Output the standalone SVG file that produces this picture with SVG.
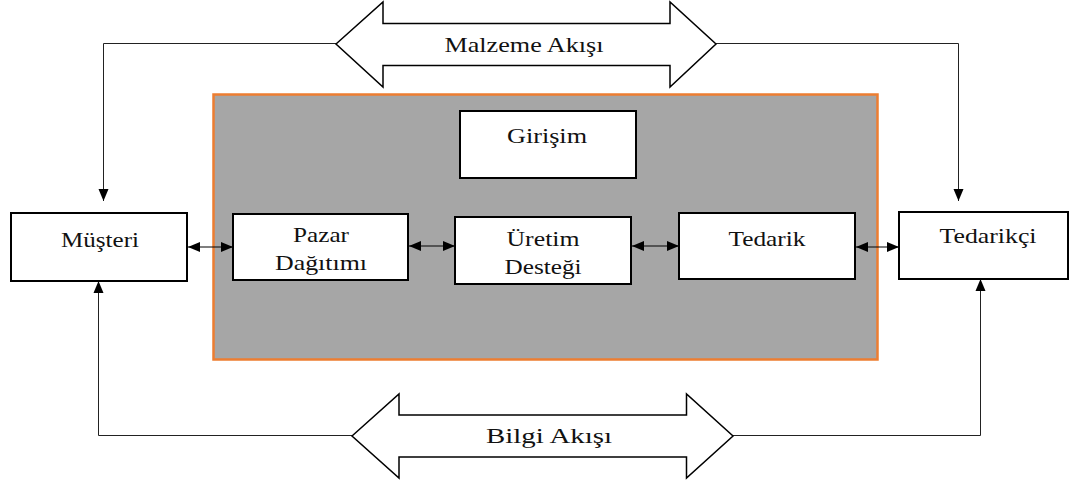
<svg xmlns="http://www.w3.org/2000/svg" width="1086" height="483" viewBox="0 0 1086 483">
  <defs>
    <marker id="head" viewBox="0 0 12 10" refX="12" refY="5" markerWidth="12" markerHeight="11" markerUnits="userSpaceOnUse" orient="auto-start-reverse">
      <path d="M0,0 L12,5 L0,10 Z" fill="#000"/>
    </marker>
    <marker id="headS" viewBox="0 0 12 10" refX="12" refY="5" markerWidth="13" markerHeight="10" markerUnits="userSpaceOnUse" orient="auto-start-reverse">
      <path d="M0,0 L12,5 L0,10 Z" fill="#000"/>
    </marker>
  </defs>
  <style>
    .box { fill: #fff; stroke: #000; stroke-width: 2; }
    .flow { fill: #fff; stroke: #000; stroke-width: 1.5; stroke-linejoin: miter; }
    .wire { fill: none; stroke: #222; stroke-width: 1; }
    .link { fill: none; stroke: #000; stroke-width: 1.2; marker-start: url(#headS); marker-end: url(#headS); }
    .lbl { font-family: "Liberation Serif", "Times New Roman", serif; font-size: 22px; fill: #111; text-anchor: middle; }
  </style>
  <rect width="1086" height="483" fill="#fff"/>

  <!-- enterprise frame -->
  <g id="enterprise">
    <rect x="213.5" y="94.5" width="664" height="265" fill="#a6a6a6" stroke="#ed7d31" stroke-width="2.5"/>
  </g>

  <!-- connectors -->
  <g id="connectors">
    <path class="wire" d="M336,43.5 H103.5 V201" marker-end="url(#head)"/>
    <path class="wire" d="M716,43.5 H958.5 V201" marker-end="url(#head)"/>
    <path class="wire" d="M352,435.5 H98.5 V281" marker-end="url(#head)"/>
    <path class="wire" d="M733,435.5 H980.5 V279" marker-end="url(#head)"/>
    <line class="link" x1="188" y1="247" x2="233" y2="247"/>
    <line class="link" x1="409" y1="246" x2="455" y2="246"/>
    <line class="link" x1="632" y1="246" x2="679" y2="246"/>
    <line class="link" x1="856" y1="247" x2="899" y2="247"/>
  </g>

  <!-- flow arrows -->
  <g id="malzeme-akisi">
    <path class="flow" d="M336,44 L383,2 V23.5 H670 V2 L716,44 L670,87 V65.5 H383 V87 Z"/>
    <text class="lbl" x="524" y="52" textLength="159" lengthAdjust="spacingAndGlyphs">Malzeme Akışı</text>
  </g>
  <g id="bilgi-akisi">
    <path class="flow" d="M352,436 L399,394 V415 H686.5 V394 L733,436 L686.5,478 V457 H399 V478 Z"/>
    <text class="lbl" x="549" y="443" textLength="126" lengthAdjust="spacingAndGlyphs">Bilgi Akışı</text>
  </g>

  <g id="girisim">
    <rect class="box" x="460" y="111" width="176" height="67"/>
    <text class="lbl" x="547" y="143" textLength="80" lengthAdjust="spacingAndGlyphs">Girişim</text>
  </g>
  <g id="musteri">
    <rect class="box" x="11" y="213" width="176" height="68"/>
    <text class="lbl" x="100" y="247" textLength="78" lengthAdjust="spacingAndGlyphs">Müşteri</text>
  </g>
  <g id="pazar-dagitimi">
    <rect class="box" x="233" y="214" width="175" height="66"/>
    <text class="lbl" x="321" y="242" textLength="56" lengthAdjust="spacingAndGlyphs">Pazar</text>
    <text class="lbl" x="321" y="270" textLength="92" lengthAdjust="spacingAndGlyphs">Dağıtımı</text>
  </g>
  <g id="uretim-destegi">
    <rect class="box" x="455" y="217" width="176" height="67"/>
    <text class="lbl" x="543" y="246" textLength="73" lengthAdjust="spacingAndGlyphs">Üretim</text>
    <text class="lbl" x="543" y="274" textLength="77" lengthAdjust="spacingAndGlyphs">Desteği</text>
  </g>
  <g id="tedarik">
    <rect class="box" x="679" y="213" width="176" height="66"/>
    <text class="lbl" x="767" y="246" textLength="77" lengthAdjust="spacingAndGlyphs">Tedarik</text>
  </g>
  <g id="tedarikci">
    <rect class="box" x="899" y="212" width="169" height="67"/>
    <text class="lbl" x="988" y="243" textLength="97" lengthAdjust="spacingAndGlyphs">Tedarikçi</text>
  </g>
</svg>
